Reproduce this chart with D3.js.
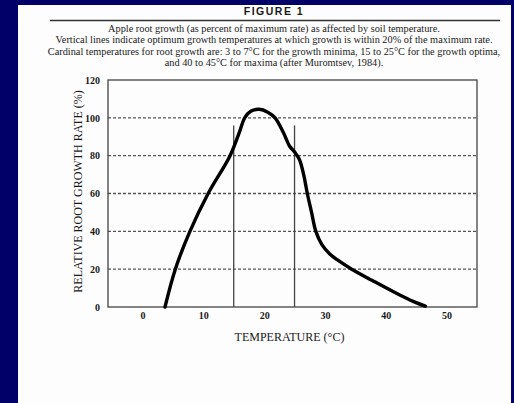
<!DOCTYPE html>
<meta charset="utf-8">
<script src="https://d3js.org/d3.v7.min.js"></script>
<style>
body { margin: 0; background: #000068; }
text { font-family: "Liberation Serif", "DejaVu Serif", serif; fill: #1a1a1a; }
</style>
<div id="my_dataviz"></div>
<script>

// data
var temps  = [3.7, 5.4, 7.8, 10.8, 14.4, 16.0, 16.8, 17.8, 19.2, 20.6, 21.8, 23.2, 24.2, 25.0, 25.8, 26.5, 27.1, 27.8, 28.5, 29.5, 30.8, 32.0, 34.4, 37.8, 41.9, 44.5, 46.5];
var growth = [0,   20,  40,  60,   80,   93,   100,  103.5, 104.5, 103, 100, 92,   85,   82,   78,   70,   60,   50,   40,   33,   28,   25,   20,   14,   7,    3,    0.5];
var optimum = [15, 25];
var optimumTop = 96;
var xTicks = [0, 10, 20, 30, 40, 50];
var yTicks = [0, 20, 40, 60, 80, 100, 120];
var gridValues = [20, 40, 60, 80, 100];
var captionLines = [
  "Apple root growth (as percent of maximum rate) as affected by soil temperature.",
  "Vertical lines indicate optimum growth temperatures at which growth is within 20% of the maximum rate.",
  "Cardinal temperatures for root growth are: 3 to 7\u00b0C for the growth minima, 15 to 25\u00b0C for the growth optima,",
  "and 40 to 45\u00b0C for maxima (after Muromtsev, 1984)."
];

var W = 514, H = 403;
var margin = {top: 80, right: 37, bottom: 96, left: 108},
    width = W - margin.left - margin.right,
    height = H - margin.top - margin.bottom;

var root = d3.select("#my_dataviz")
  .append("svg")
    .attr("width", W)
    .attr("height", H);

// white page
root.append("rect")
  .attr("x", 18).attr("y", 5)
  .attr("width", 493).attr("height", H - 5)
  .attr("fill", "#fdfdfd");

// header
root.append("text")
  .attr("x", 274).attr("y", 15)
  .attr("text-anchor", "middle")
  .style("font-family", "'Liberation Sans', Arial, sans-serif")
  .style("font-weight", "bold")
  .style("font-size", "10.5px")
  .style("letter-spacing", "1.5px")
  .text("FIGURE 1");

root.append("line")
  .attr("x1", 50).attr("x2", 500)
  .attr("y1", 20.5).attr("y2", 20.5)
  .attr("stroke", "#333")
  .attr("stroke-width", 1.6);

root.selectAll(".caption")
  .data(captionLines)
  .enter()
  .append("text")
    .attr("class", "caption")
    .attr("x", 274)
    .attr("y", function(d, i) { return 32 + i * 11.4; })
    .attr("text-anchor", "middle")
    .style("font-size", "10.3px")
    .text(function(d) { return d; });

var svg = root.append("g")
  .attr("transform", "translate(" + margin.left + "," + margin.top + ")");

var x = d3.scaleLinear()
  .domain([-5.67, 55])
  .range([0, width]);

var y = d3.scaleLinear()
  .domain([0, 120])
  .range([height, 0]);

// dashed grid
svg.selectAll(".grid")
  .data(gridValues)
  .enter()
  .append("line")
    .attr("x1", 0).attr("x2", width)
    .attr("y1", function(d) { return y(d); })
    .attr("y2", function(d) { return y(d); })
    .attr("stroke", "#555")
    .attr("stroke-width", 1.3)
    .attr("stroke-dasharray", "3,2");

// optimum lines
svg.selectAll(".opt")
  .data(optimum)
  .enter()
  .append("line")
    .attr("x1", function(d) { return x(d); })
    .attr("x2", function(d) { return x(d); })
    .attr("y1", y(0))
    .attr("y2", y(optimumTop))
    .attr("stroke", "#444")
    .attr("stroke-width", 1.3);

// frame
svg.append("rect")
  .attr("width", width).attr("height", height)
  .attr("fill", "none")
  .attr("stroke", "#444")
  .attr("stroke-width", 1.3);

// axes
var xAxis = svg.append("g")
  .attr("transform", "translate(0," + height + ")")
  .call(d3.axisBottom(x).tickValues(xTicks).tickSize(0).tickPadding(5));
var yAxis = svg.append("g")
  .call(d3.axisLeft(y).tickValues(yTicks).tickSize(0).tickPadding(8));
[xAxis, yAxis].forEach(function(a) {
  a.select(".domain").remove();
  a.selectAll("text")
    .style("font-family", "'Liberation Serif', serif")
    .style("font-weight", "bold")
    .style("font-size", "10px")
    .attr("fill", "#222");
});

// curve
var pts = temps.map(function(t, i) { return [t, growth[i]]; });
svg.append("path")
  .datum(pts)
  .attr("fill", "none")
  .attr("stroke", "#000")
  .attr("stroke-width", 3.4)
  .attr("stroke-linecap", "round")
  .attr("d", d3.line()
    .curve(d3.curveCatmullRom.alpha(0.5))
    .x(function(d) { return x(d[0]); })
    .y(function(d) { return y(d[1]); }));

// axis titles
svg.append("text")
  .attr("x", width / 2 - 3)
  .attr("y", height + 34)
  .attr("text-anchor", "middle")
  .style("font-size", "12px")
  .text("TEMPERATURE (\u00b0C)");

svg.append("text")
  .attr("transform", "rotate(-90)")
  .attr("x", -(height / 2) + 2)
  .attr("y", -26)
  .attr("text-anchor", "middle")
  .style("font-size", "12px")
  .text("RELATIVE ROOT GROWTH RATE (%)");

</script>
